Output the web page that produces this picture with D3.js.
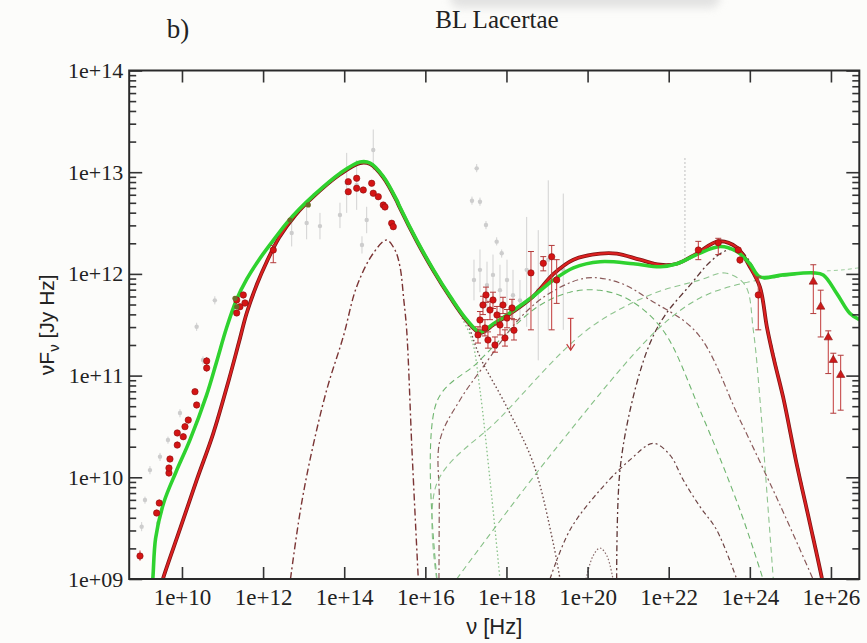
<!DOCTYPE html>
<html><head><meta charset="utf-8">
<script src="https://cdn.jsdelivr.net/npm/d3@7"></script>
<style>
html,body{margin:0;padding:0;background:#fcfcfa;}
svg{display:block;}
</style></head>
<body>
<svg id="chart" width="867" height="643"></svg>
<script>
// ---- axis ticks (log10 exponents) ----
const xTickExp = [10, 12, 14, 16, 18, 20, 22, 24, 26];
const xTickLabels = ["1e+10", "1e+12", "1e+14", "1e+16", "1e+18", "1e+20", "1e+22", "1e+24", "1e+26"];
const yTickExp = [9, 10, 11, 12, 13, 14];
const yTickLabels = ["1e+09", "1e+10", "1e+11", "1e+12", "1e+13", "1e+14"];

// ---- model totals: [log10 nu, log10 nuFnu] ----
const modelRed = [
  [9.50, 8.95], [9.53, 9.00], [9.95, 9.49], [10.36, 9.97], [10.77, 10.43], [11.15, 10.95], [11.40, 11.32],
  [11.60, 11.62], [11.85, 11.90], [12.09, 12.12], [12.40, 12.36], [12.80, 12.58], [13.24, 12.76], [13.90, 12.98],
  [14.39, 13.09], [14.64, 13.08], [14.96, 12.95], [15.29, 12.72], [15.37, 12.65], [15.79, 12.32],
  [16.20, 12.03], [16.61, 11.77], [17.02, 11.54], [17.35, 11.42], [17.68, 11.50], [18.17, 11.63],
  [18.66, 11.78], [19.16, 12.00], [19.65, 12.14], [20.31, 12.20], [20.72, 12.20], [21.29, 12.14],
  [21.79, 12.09], [22.20, 12.10], [22.69, 12.20], [23.22, 12.32], [23.68, 12.26], [24.00, 12.07],
  [24.25, 11.87], [24.42, 11.48], [24.60, 11.15], [24.82, 10.79], [25.15, 10.14], [25.48, 9.55],
  [25.77, 9.02], [25.80, 8.95]
];
const modelGreen = [
  [9.26, 8.95], [9.28, 9.00], [9.35, 9.40], [9.55, 9.75], [9.85, 10.05], [10.20, 10.37], [10.60, 10.80],
  [10.85, 11.13], [11.10, 11.47], [11.35, 11.75], [11.60, 11.95], [11.90, 12.14], [12.25, 12.33],
  [12.58, 12.50], [12.90, 12.64], [13.24, 12.77],
  [13.90, 12.99], [14.39, 13.10], [14.64, 13.09], [14.96, 12.96], [15.29, 12.73], [15.37, 12.66],
  [15.79, 12.33], [16.20, 12.04], [16.61, 11.78], [17.02, 11.55], [17.35, 11.43], [17.68, 11.51],
  [18.17, 11.64], [18.66, 11.78], [19.16, 11.94], [19.65, 12.06], [20.31, 12.12], [21.13, 12.10],
  [21.79, 12.07], [22.20, 12.10], [22.69, 12.19], [23.27, 12.27], [23.68, 12.22], [24.00, 12.10],
  [24.25, 11.97], [24.82, 11.99], [25.56, 12.01], [25.81, 11.99], [26.14, 11.81], [26.47, 11.61],
  [26.70, 11.55]
];

// ---- individual emission components ----
const synchrotronRed = [
  [12.675, 9.0], [12.909, 9.649], [13.156, 10.171], [13.568, 10.859], [13.977, 11.383], [14.307, 11.874],
  [14.716, 12.203], [15.047, 12.333], [15.251, 12.235], [15.375, 12.071], [15.47, 11.74], [15.54, 11.448],
  [15.67, 10.27], [15.826, 9.0]
];
const sscRed = [
  [16.336, 9.0], [16.345, 9.777], [16.361, 10.367], [16.854, 10.760], [17.429, 11.088], [18.333, 11.566],
  [19.073, 11.812], [19.978, 11.960], [20.799, 11.911], [21.538, 11.744], [22.697, 11.419],
  [23.757, 10.564], [24.744, 9.728], [25.558, 9.0]
];
const ecRed = [
  [20.717, 9.0], [20.799, 10.072], [21.127, 10.793], [21.538, 11.318], [21.908, 11.593], [22.525, 11.889],
  [23.018, 12.117], [23.388, 12.225], [23.708, 12.245], [24.004, 12.117], [24.250, 11.889],
  [24.423, 11.498], [24.620, 11.153], [24.817, 10.790], [25.162, 10.157], [25.483, 9.551], [25.779, 9.0]
];
const bumpRed = [
  [19.073, 9.0], [19.566, 9.482], [20.306, 9.875], [21.045, 10.171], [21.620, 10.334], [22.032, 10.219],
  [22.359, 9.973], [22.771, 9.711], [23.183, 9.482], [23.676, 9.0]
];
const tailRed = [
  [16.90, 11.60], [17.051, 11.498], [17.347, 11.183], [18.005, 10.694], [18.661, 10.138], [19.154, 9.351],
  [19.320, 9.0]
];
const smallBump = [[19.961, 9.0], [20.133, 9.226], [20.306, 9.305], [20.478, 9.226], [20.626, 9.0]];
const sscGreen = [
  [16.287, 9.0], [16.290, 10.750], [17.266, 11.121], [18.087, 11.446], [18.826, 11.692], [19.566, 11.820],
  [20.306, 11.839], [21.045, 11.741], [21.859, 11.446], [22.771, 10.659], [23.757, 9.679], [24.324, 9.0]
];
const ecGreen = [
  [16.280, 9.0], [16.284, 9.941], [17.840, 10.583], [19.978, 11.446], [21.538, 11.793], [22.771, 11.940],
  [23.388, 12.009], [23.881, 11.891], [24.086, 11.446], [24.251, 10.760], [24.398, 9.973], [24.578, 9.0]
];
const vheGreen = [
  [16.773, 9.0], [19.221, 10.285], [21.704, 11.446], [22.771, 11.763], [23.757, 11.901], [24.744, 11.970],
  [25.558, 12.009], [25.804, 11.989], [26.149, 11.812], [26.469, 11.616], [26.691, 11.566]
];
const tailGreen = [[16.903, 11.566], [17.150, 11.350], [17.347, 10.858], [17.594, 9.973], [17.840, 9.0]];
const vheGreenIntrinsic = [[25.90, 12.03], [26.30, 12.04], [26.69, 12.06]];

// ---- observations: [log nu, log nuFnu, log lower, log upper] ----
const obsRed = [
  [8.965, 9.226, 9.18, 9.28], [9.376, 9.649, 9.62, 9.68], [9.440, 9.747, 9.72, 9.78],
  [9.679, 10.042, 10.01, 10.07], [9.679, 10.091, 10.06, 10.12], [9.704, 10.180, 10.15, 10.21],
  [9.884, 10.317, 10.29, 10.35], [9.884, 10.436, 10.41, 10.46], [10.032, 10.399, 10.37, 10.43],
  [10.074, 10.498, 10.47, 10.53], [10.155, 10.563, 10.53, 10.59], [10.362, 10.711, 10.68, 10.74],
  [10.321, 10.842, 10.81, 10.87], [10.609, 11.075, 11.04, 11.11], [10.609, 11.144, 11.11, 11.18],
  [11.349, 11.743, 11.71, 11.77], [11.430, 11.677, 11.65, 11.70], [11.512, 11.793, 11.76, 11.82],
  [11.553, 11.714, 11.68, 11.74], [11.349, 11.616, 11.59, 11.64], [12.251, 12.235, 12.11, 12.28],
  [14.100, 12.907, 12.89, 12.92], [14.307, 12.940, 12.92, 12.96], [14.100, 12.808, 12.79, 12.82],
  [14.307, 12.842, 12.83, 12.86], [14.470, 12.825, 12.81, 12.84], [14.677, 12.891, 12.88, 12.90],
  [14.716, 12.793, 12.78, 12.81], [14.840, 12.759, 12.74, 12.77], [14.963, 12.677, 12.66, 12.69],
  [15.005, 12.658, 12.64, 12.67], [15.170, 12.498, 12.48, 12.51], [15.210, 12.464, 12.45, 12.48],
  [17.347, 11.547, 11.45, 11.63], [17.421, 11.694, 11.60, 11.78], [17.495, 11.793, 11.72, 11.87],
  [17.594, 11.645, 11.55, 11.73], [17.668, 11.743, 11.66, 11.82], [17.766, 11.596, 11.50, 11.68],
  [17.840, 11.498, 11.40, 11.58], [17.914, 11.694, 11.61, 11.77], [18.013, 11.566, 11.47, 11.65],
  [18.136, 11.665, 11.56, 11.75], [17.298, 11.400, 11.32, 11.48], [17.544, 11.350, 11.27, 11.43],
  [17.717, 11.301, 11.23, 11.38], [17.963, 11.370, 11.29, 11.45], [17.470, 11.468, 11.39, 11.55],
  [18.185, 11.446, 11.35, 11.55],
  [18.604, 12.010, 11.45, 12.22], [18.908, 12.104, 12.03, 12.17], [19.115, 12.169, 11.45, 12.28],
  [19.238, 11.940, 11.71, 12.14],
  [22.730, 12.235, 12.14, 12.32], [23.222, 12.307, 12.19, 12.35], [23.715, 12.235, 12.20, 12.27],
  [23.757, 12.137, 12.10, 12.17], [24.208, 11.793, 11.45, 11.97]
];
const obsRedVHE = [
  [25.565, 11.923, 11.61, 12.09], [25.747, 11.677, 11.38, 11.84], [25.934, 11.375, 11.02, 11.44],
  [26.058, 11.153, 10.63, 11.22], [26.240, 11.006, 10.66, 11.20]
];
const upperLimits = [[19.583, 11.563, 11.25]];
const obsOlive = [[12.663, 12.530], [13.114, 12.678], [11.307, 11.760], [11.349, 11.677]];
const obsGray = [
  [9.006, 9.514, 9.47, 9.56], [9.088, 9.777, 9.74, 9.81], [9.211, 10.071, 10.03, 10.11],
  [9.416, 9.551, 9.51, 9.59], [9.458, 10.203, 10.16, 10.24], [9.655, 10.367, 10.33, 10.40],
  [9.951, 10.632, 10.59, 10.67], [10.362, 11.481, 11.44, 11.52], [10.518, 11.153, 11.11, 11.19],
  [10.81, 11.74, 11.70, 11.78],
  [12.705, 12.402, 12.27, 12.53], [13.074, 12.500, 12.34, 12.66], [13.402, 12.470, 12.34, 12.60],
  [13.895, 12.579, 12.45, 12.70], [14.061, 12.894, 12.60, 13.19], [14.307, 12.874, 12.63, 13.12],
  [14.438, 12.284, 12.20, 12.37], [14.554, 12.530, 12.40, 12.66], [14.716, 13.218, 13.02, 13.42],
  [17.15, 12.72, 12.68, 12.76], [17.266, 13.038, 13.00, 13.08], [17.347, 12.710, 12.67, 12.75],
  [17.495, 12.481, 12.44, 12.52], [17.759, 12.317, 12.28, 12.36], [17.882, 12.203, 12.16, 12.24],
  [17.199, 11.940, 11.74, 12.14], [17.347, 12.040, 11.82, 12.24], [17.520, 11.890, 11.63, 12.12],
  [17.668, 11.990, 11.75, 12.19], [17.840, 11.840, 11.57, 12.09], [18.013, 11.940, 11.69, 12.14],
  [18.161, 11.790, 11.50, 12.04], [18.333, 11.740, 11.54, 11.94],
  [18.498, 12.040, 11.48, 12.56], [18.784, 11.840, 11.15, 12.43], [19.031, 12.140, 11.45, 12.92],
  [19.401, 12.040, 11.45, 12.79]
];
const grayDottedBar = [[22.40, 12.14, 13.15]];

// ---- drawing ----
const W = 867, H = 643;
const P = v => Math.pow(10, v);
const svg = d3.select("#chart");

const x = d3.scaleLog().domain([5e8, 5e26]).range([129.2, 859.3]);
const y = d3.scaleLog().domain([1e9, 1e14]).range([579, 70.5]);
const X = d => x(P(d)), Y = d => y(P(d));
const [x0, x1] = x.range(), [y0, y1] = [y.range()[1], y.range()[0]];

svg.append("rect").attr("width", W).attr("height", H).attr("fill", "#fcfcfa");

// soft grey bar at the upper edge
const defs = svg.append("defs");
defs.append("filter").attr("id", "soft").attr("x", "-20%").attr("y", "-50%").attr("width", "140%").attr("height", "200%")
  .append("feGaussianBlur").attr("stdDeviation", 4);
defs.append("clipPath").attr("id", "plot").append("rect")
  .attr("x", x0).attr("y", y0).attr("width", x1 - x0).attr("height", y1 - y0);
svg.append("rect").attr("x", 450).attr("y", -14).attr("width", 270).attr("height", 22).attr("rx", 10)
  .attr("fill", "#d8d8d8").attr("opacity", 0.7).attr("filter", "url(#soft)");

// titles
svg.append("text").attr("x", 178).attr("y", 38).attr("text-anchor", "middle")
  .attr("font-family", "Liberation Serif, serif").attr("font-size", 27).attr("fill", "#222").text("b)");
svg.append("text").attr("x", 497).attr("y", 28).attr("text-anchor", "middle")
  .attr("font-family", "Liberation Serif, serif").attr("font-size", 25).attr("fill", "#222").text("BL Lacertae");

const plot = svg.append("g").attr("clip-path", "url(#plot)");
const line = d3.line().x(d => X(d[0])).y(d => Y(d[1])).curve(d3.curveCatmullRom.alpha(0.5));

// grey archival observations
const gGray = plot.append("g");
gGray.selectAll("line.eb").data(obsGray).join("line")
  .attr("x1", d => X(d[0])).attr("x2", d => X(d[0])).attr("y1", d => Y(d[2])).attr("y2", d => Y(d[3]))
  .attr("stroke", "#d2d2d2").attr("stroke-width", 1);
gGray.selectAll("circle").data(obsGray).join("circle")
  .attr("cx", d => X(d[0])).attr("cy", d => Y(d[1])).attr("r", 2.2).attr("fill", "#cdcdcd");
gGray.selectAll("line.db").data(grayDottedBar).join("line")
  .attr("x1", d => X(d[0])).attr("x2", d => X(d[0])).attr("y1", d => Y(d[1])).attr("y2", d => Y(d[2]))
  .attr("stroke", "#b8b8b8").attr("stroke-width", 1.2).attr("stroke-dasharray", "1.5,2.5");

// components
const comps = [
  { d: synchrotronRed, c: "#7a3434", dash: "7,3,2,3", w: 1.4 },
  { d: sscRed, c: "#8a5a5a", dash: "6,3,2,3", w: 1.2 },
  { d: ecRed, c: "#5e3535", dash: "6,3,2,3", w: 1.3 },
  { d: bumpRed, c: "#6e4444", dash: "5,3,2,3", w: 1.2 },
  { d: tailRed, c: "#6e4a4a", dash: "1.5,2.5", w: 1.4 },
  { d: smallBump, c: "#8a6a6a", dash: "1.5,2", w: 1.2 },
  { d: sscGreen, c: "#6fb56f", dash: "6,4", w: 1.1 },
  { d: ecGreen, c: "#8fc48f", dash: "6,4", w: 1.1 },
  { d: vheGreen, c: "#86c086", dash: "6,4", w: 1.1 },
  { d: tailGreen, c: "#86c086", dash: "1.5,2.5", w: 1.3 },
  { d: vheGreenIntrinsic, c: "#9ccc9c", dash: "4,3", w: 1 }
];
plot.selectAll("path.comp").data(comps).join("path").attr("class", "comp")
  .attr("d", c => line(c.d)).attr("fill", "none").attr("stroke", c => c.c)
  .attr("stroke-width", c => c.w).attr("stroke-dasharray", c => c.dash);

// model totals
plot.append("path").attr("d", line(modelRed)).attr("fill", "none").attr("stroke", "#7e1414").attr("stroke-width", 3.8);
plot.append("path").attr("d", line(modelRed)).attr("fill", "none").attr("stroke", "#dd2020").attr("stroke-width", 2.2);
plot.append("path").attr("d", line(modelGreen)).attr("fill", "none").attr("stroke", "#2fd22f").attr("stroke-width", 3.6);

// simultaneous observations
const gObs = plot.append("g");
const allRed = obsRed.concat(obsRedVHE);
gObs.selectAll("line.eb").data(allRed).join("line")
  .attr("x1", d => X(d[0])).attr("x2", d => X(d[0])).attr("y1", d => Y(d[2])).attr("y2", d => Y(d[3]))
  .attr("stroke", "#c23a3a").attr("stroke-width", 1);
gObs.selectAll("path.cap").data(allRed.filter(d => Y(d[2]) - Y(d[3]) > 12)).join("path")
  .attr("d", d => `M${X(d[0]) - 3},${Y(d[2])}h6M${X(d[0]) - 3},${Y(d[3])}h6`)
  .attr("stroke", "#b03a3a").attr("stroke-width", 1);
gObs.selectAll("circle.pt").data(obsRed).join("circle")
  .attr("cx", d => X(d[0])).attr("cy", d => Y(d[1])).attr("r", 3.2)
  .attr("fill", "#d41414").attr("stroke", "#8a1010").attr("stroke-width", 0.6);
gObs.selectAll("path.tri").data(obsRedVHE).join("path")
  .attr("transform", d => `translate(${X(d[0])},${Y(d[1])})`)
  .attr("d", d3.symbol(d3.symbolTriangle, 30))
  .attr("fill", "#cc1a1a").attr("stroke", "#8a1010").attr("stroke-width", 0.6);
gObs.selectAll("circle.ol").data(obsOlive).join("circle")
  .attr("cx", d => X(d[0])).attr("cy", d => Y(d[1])).attr("r", 2.6).attr("fill", "#6e6a2a");
gObs.selectAll("g.ul").data(upperLimits).join("g").each(function (d) {
  const g = d3.select(this), cx = X(d[0]), ya = Y(d[1]), yb = Y(d[2]);
  g.append("line").attr("x1", cx).attr("x2", cx).attr("y1", ya).attr("y2", yb).attr("stroke", "#c23a3a").attr("stroke-width", 1.2);
  g.append("path").attr("d", `M${cx - 4},${yb - 6}L${cx},${yb}L${cx + 4},${yb - 6}`).attr("fill", "none").attr("stroke", "#c23a3a").attr("stroke-width", 1.2);
  g.append("path").attr("d", `M${cx - 3},${ya}h6`).attr("stroke", "#c23a3a");
});

// axes
const font = "Liberation Serif, serif";
const yMinor = [];
for (let e = 9; e < 14; e++) for (let m = 2; m <= 9; m++) yMinor.push(m * P(e));

function styleAxis(g) {
  g.select(".domain").remove();
  g.selectAll("line").attr("stroke", "#333").attr("stroke-width", 1.6);
}
svg.append("g").attr("transform", `translate(0,${y1})`)
  .call(d3.axisBottom(x).tickValues(xTickExp.map(P)).tickSize(-12).tickPadding(0)
    .tickFormat((d, i) => xTickLabels[i]))
  .call(styleAxis)
  .call(g => g.selectAll("text").attr("y", 26).attr("dy", 0).attr("font-family", font).attr("font-size", 23).attr("fill", "#222"));
svg.append("g").attr("transform", `translate(0,${y0})`)
  .call(d3.axisTop(x).tickValues(xTickExp.map(P)).tickSize(-12).tickFormat(""))
  .call(styleAxis);
svg.append("g").attr("transform", `translate(${x0},0)`)
  .call(d3.axisLeft(y).tickValues(yTickExp.map(P)).tickSize(-13).tickPadding(6)
    .tickFormat((d, i) => yTickLabels[i]))
  .call(styleAxis)
  .call(g => g.selectAll("text").attr("font-family", font).attr("font-size", 22).attr("fill", "#222"));
svg.append("g").attr("transform", `translate(${x0},0)`)
  .call(d3.axisLeft(y).tickValues(yMinor).tickSize(-7).tickFormat(""))
  .call(styleAxis);
svg.append("g").attr("transform", `translate(${x1},0)`)
  .call(d3.axisRight(y).tickValues(yTickExp.map(P)).tickSize(-13).tickFormat(""))
  .call(styleAxis);
svg.append("g").attr("transform", `translate(${x1},0)`)
  .call(d3.axisRight(y).tickValues(yMinor).tickSize(-7).tickFormat(""))
  .call(styleAxis);

svg.append("rect").attr("x", x0).attr("y", y0).attr("width", x1 - x0).attr("height", y1 - y0)
  .attr("fill", "none").attr("stroke", "#2a2a2a").attr("stroke-width", 2);

// axis titles
svg.append("text").attr("x", (x0 + x1) / 2).attr("y", 634).attr("text-anchor", "middle")
  .attr("font-family", "Liberation Sans, Arial, sans-serif").attr("font-size", 22).attr("fill", "#222")
  .text("ν [Hz]");
const yl = svg.append("text").attr("transform", `translate(54,${(y0 + y1) / 2}) rotate(-90)`)
  .attr("text-anchor", "middle").attr("font-family", "Liberation Sans, Arial, sans-serif")
  .attr("font-size", 21).attr("fill", "#222");
yl.append("tspan").text("νF");
yl.append("tspan").attr("font-size", 15).attr("dy", 5).text("ν");
yl.append("tspan").attr("dy", -5).text(" [Jy Hz]");
</script>
</body></html>
